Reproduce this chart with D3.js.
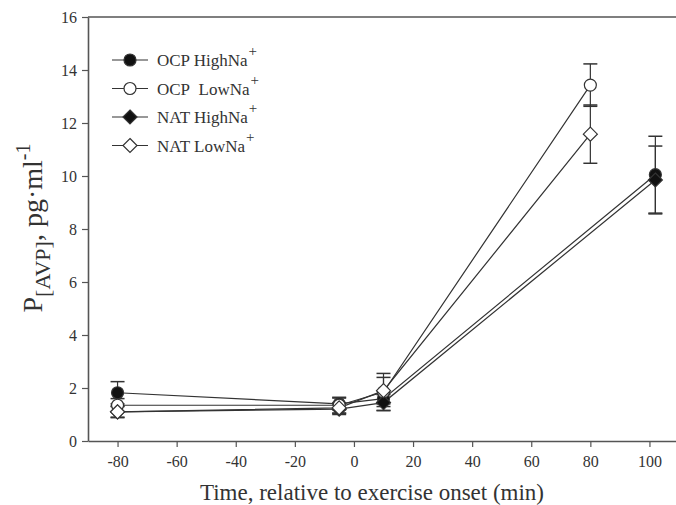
<!DOCTYPE html>
<html>
<head>
<meta charset="utf-8">
<script src="https://cdn.jsdelivr.net/npm/d3@7"></script>
<style>
  body { margin: 0; background: #fff; }
  text { font-family: "Liberation Serif", "Times New Roman", serif; fill: #333; }
</style>
</head>
<body>
<div id="canvas"></div>
<script>
// time points (min, relative to exercise onset)
var timeLow  = [-80, -5, 10, 80];
var timeHigh = [-80, -5, 10, 102];

// P[AVP] means and SE
var ocpHigh    = [1.82, 1.40, 1.60, 10.05];
var ocpHighErr = [0.42, 0.22, 0.30, 1.45];
var ocpLow     = [1.35, 1.35, 1.85, 13.43];
var ocpLowErr  = [0.25, 0.30, 0.70, 0.80];
var natHigh    = [1.10, 1.20, 1.45, 9.85];
var natHighErr = [0.20, 0.20, 0.30, 1.28];
var natLow     = [1.10, 1.25, 1.90, 11.58];
var natLowErr  = [0.22, 0.20, 0.50, 1.10];

var xTicks = [-80, -60, -40, -20, 0, 20, 40, 60, 80, 100];
var yTicks = [0, 2, 4, 6, 8, 10, 12, 14, 16];

var series = [
  {name: 'OCP HighNa', x: timeHigh, y: ocpHigh, e: ocpHighErr, shape: 'circle', fill: '#111'},
  {name: 'OCP\u00A0 LowNa', x: timeLow,  y: ocpLow,  e: ocpLowErr,  shape: 'circle', fill: '#fff'},
  {name: 'NAT HighNa', x: timeHigh, y: natHigh, e: natHighErr, shape: 'diamond', fill: '#111'},
  {name: 'NAT LowNa',  x: timeLow,  y: natLow,  e: natLowErr,  shape: 'diamond', fill: '#fff'}
];

var W = 676, H = 505;
var m = {t: 17, r: -3, b: 64, l: 88},
    w = W - m.l - m.r,
    h = H - m.t - m.b;

var svg = d3.select('#canvas').append('svg')
    .attr('width', W).attr('height', H);

var plot = svg.append('g').attr('transform', 'translate(' + m.l + ',' + m.t + ')');

var x = d3.scaleLinear().domain([-90, 110]).range([0, w]);
var y = d3.scaleLinear().domain([0, 16]).range([h, 0]);

var ink = '#333';

// axes (plain hyphen for negatives, like the original)
var fmt = function(d) { return String(d); };
var xAxis = plot.append('g').attr('transform', 'translate(0,' + h + ')')
    .call(d3.axisBottom(x).tickValues(xTicks).tickFormat(fmt).tickSize(6).tickPadding(9).tickSizeOuter(0));
var yAxis = plot.append('g')
    .call(d3.axisLeft(y).tickValues(yTicks).tickFormat(fmt).tickSize(6).tickPadding(5).tickSizeOuter(0));
[xAxis, yAxis].forEach(function(a) {
  a.select('.domain').attr('stroke', '#555').attr('stroke-width', 1.6);
  a.selectAll('.tick line').attr('stroke', '#555').attr('stroke-width', 1.2);
  a.selectAll('.tick text').style('font-size', '16px').attr('fill', ink)
    .style('font-family', '"Liberation Serif", serif');
});
// top frame line
plot.append('line').attr('x1', 0).attr('x2', w).attr('y1', 0).attr('y2', 0)
    .attr('stroke', '#555').attr('stroke-width', 1.6);

var line = d3.line().x(function(d) { return x(d[0]); }).y(function(d) { return y(d[1]); });

function drawMarker(g, shape, fill, cx, cy) {
  if (shape === 'circle') {
    g.append('circle').attr('cx', cx).attr('cy', cy).attr('r', 6)
      .attr('fill', fill).attr('stroke', ink).attr('stroke-width', 1.2);
  } else {
    var r = 7;
    g.append('path')
      .attr('d', 'M' + cx + ',' + (cy - r) + 'L' + (cx + r) + ',' + cy + 'L' + cx + ',' + (cy + r) + 'L' + (cx - r) + ',' + cy + 'Z')
      .attr('fill', fill).attr('stroke', ink).attr('stroke-width', 1.2);
  }
}

// lines
series.forEach(function(s) {
  var pts = s.x.map(function(t, i) { return [t, s.y[i]]; });
  plot.append('path').datum(pts).attr('d', line)
    .attr('fill', 'none').attr('stroke', ink).attr('stroke-width', 1.2);
});

// error bars
series.forEach(function(s) {
  var g = plot.append('g');
  s.x.forEach(function(t, i) {
    var cx = x(t), y1 = y(s.y[i] + s.e[i]), y2 = y(s.y[i] - s.e[i]);
    g.append('line').attr('x1', cx).attr('x2', cx).attr('y1', y1).attr('y2', y2)
      .attr('stroke', ink).attr('stroke-width', 1.2);
    [y1, y2].forEach(function(yy) {
      g.append('line').attr('x1', cx - 7).attr('x2', cx + 7).attr('y1', yy).attr('y2', yy)
        .attr('stroke', ink).attr('stroke-width', 1.5);
    });
  });
});

// markers
series.forEach(function(s) {
  var g = plot.append('g');
  s.x.forEach(function(t, i) { drawMarker(g, s.shape, s.fill, x(t), y(s.y[i])); });
});

// legend
var leg = svg.append('g');
series.forEach(function(s, i) {
  var ly = 60 + i * 28.5;
  leg.append('line').attr('x1', 112).attr('x2', 148).attr('y1', ly).attr('y2', ly)
    .attr('stroke', ink).attr('stroke-width', 1.2);
  drawMarker(leg, s.shape, s.fill, 130, ly);
  var t = leg.append('text').attr('x', 157).attr('y', ly + 6)
    .style('font-size', '17px');
  t.append('tspan').text(s.name);
  t.append('tspan').attr('dx', 1).attr('dy', -10).style('font-size', '15px').text('+');
});

// axis titles
svg.append('text').attr('x', 372).attr('y', 500).attr('text-anchor', 'middle')
  .style('font-size', '23px').text('Time, relative to exercise onset (min)');

var yl = svg.append('text')
  .attr('transform', 'translate(42,228) rotate(-90)')
  .attr('text-anchor', 'middle').style('font-size', '28px');
yl.append('tspan').text('P');
yl.append('tspan').attr('dy', 8).style('font-size', '22px').text('[AVP]');
yl.append('tspan').attr('dy', -8).text(', pg\u00B7ml');
yl.append('tspan').attr('dy', -12).style('font-size', '20px').text('-1');
</script>
</body>
</html>
